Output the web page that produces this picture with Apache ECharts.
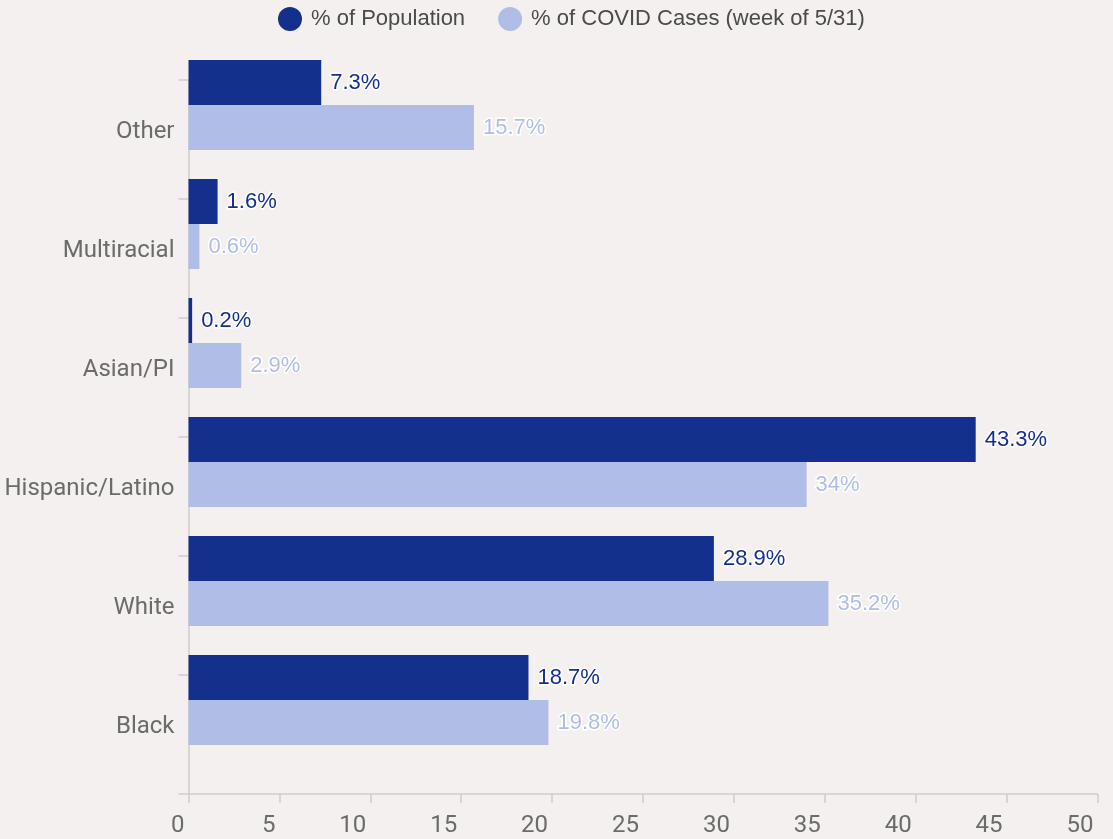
<!DOCTYPE html>
<html>
<head>
<meta charset="utf-8">
<script src="https://cdn.jsdelivr.net/npm/echarts@6/dist/echarts.min.js"></script>
<style>
html,body{margin:0;padding:0;background:#f4f0ef;}
#chart{width:1113px;height:839px;}
</style>
</head>
<body>
<div id="chart"></div>
<script>
const categories = ['Black', 'White', 'Hispanic/Latino', 'Asian/PI', 'Multiracial', 'Other'];
const populationPct = [18.7, 28.9, 43.3, 0.2, 1.6, 7.3];
const casesPct = [19.8, 35.2, 34, 2.9, 0.6, 15.7];
const xTicks = [0, 5, 10, 15, 20, 25, 30, 35, 40, 45, 50];
const seriesNames = ['% of Population', '% of COVID Cases (week of 5/31)'];

const DARK = '#13308c';
const LIGHT = '#b0bde6';

function labelCfg(color) {
  return {
    show: true, position: 'right', distance: 9,
    formatter: p => p.value + '%',
    fontFamily: 'Liberation Sans, Arial, sans-serif', fontSize: 22,
    color: color, textBorderColor: '#ffffff', textBorderWidth: 3
  };
}

const chart = echarts.init(document.getElementById('chart'));
chart.setOption({
  backgroundColor: '#f4f0ef',
  animation: false,
  legend: {
    data: seriesNames,
    left: 273,
    top: 2,
    icon: 'circle',
    itemWidth: 24,
    itemHeight: 24,
    itemGap: 33,
    textStyle: { fontFamily: 'Liberation Sans, Arial, sans-serif', fontSize: 22, color: '#4a4a4a', padding: [0, 0, 0, 4] }
  },
  grid: { left: 188.5, right: 15.5, top: 80, bottom: 45, containLabel: false },
  xAxis: {
    type: 'value',
    min: xTicks[0],
    max: xTicks[xTicks.length - 1],
    interval: 5,
    axisLine: { show: true, lineStyle: { color: '#d0cccb', width: 1.5 } },
    axisTick: { show: true, length: 9, lineStyle: { color: '#d0cccb', width: 1.5 } },
    splitLine: { show: false },
    axisLabel: { fontFamily: 'Roboto, sans-serif', fontSize: 24, color: '#6b6b6b', margin: 20, align: 'right', padding: [0, 4, 0, 0] }
  },
  yAxis: {
    type: 'category',
    data: categories,
    axisLine: { show: true, lineStyle: { color: '#d0cccb', width: 1.5 } },
    axisTick: { show: true, length: 10, lineStyle: { color: '#d0cccb', width: 1.5 } },
    axisLabel: { fontFamily: 'Roboto, sans-serif', fontSize: 24, color: '#6b6b6b', margin: 14, verticalAlign: 'bottom', lineHeight: 16 }
  },
  series: [
    {
      name: seriesNames[0],
      type: 'bar',
      data: populationPct,
      barWidth: 45,
      barGap: '0%',
      clip: false,
      itemStyle: { color: DARK },
      label: labelCfg(DARK)
    },
    {
      name: seriesNames[1],
      type: 'bar',
      data: casesPct,
      barWidth: 45,
      barGap: '0%',
      clip: false,
      itemStyle: { color: LIGHT },
      label: labelCfg(LIGHT)
    },
    {
      name: 'spacer',
      type: 'bar',
      data: [],
      barWidth: 69,
      barGap: '0%',
      silent: true,
      itemStyle: { color: 'transparent' }
    }
  ]
});
</script>
</body>
</html>
